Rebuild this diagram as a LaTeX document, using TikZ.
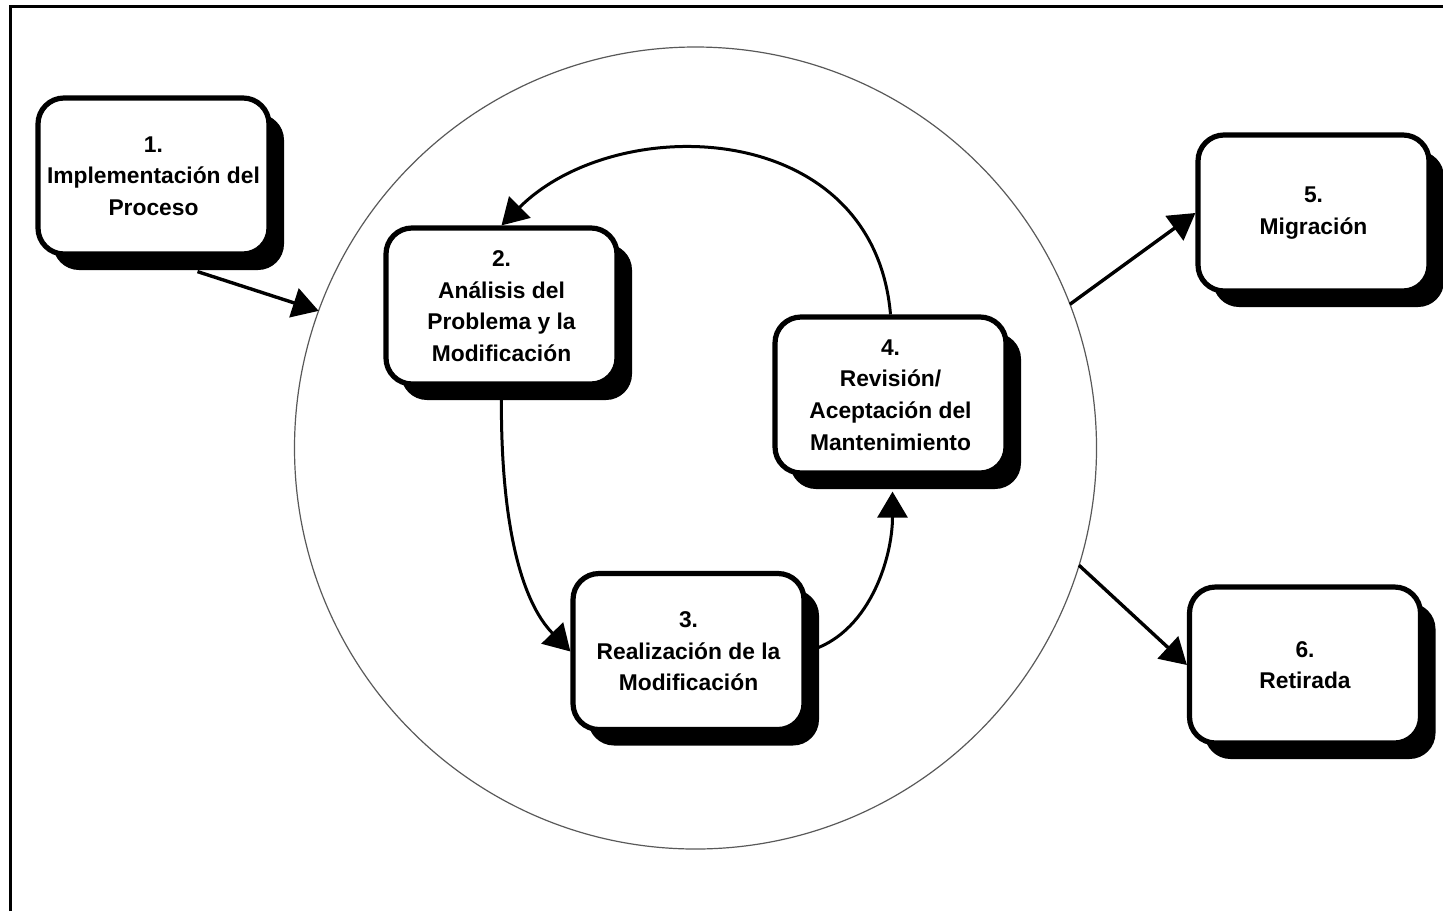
\documentclass[tikz,border=0pt]{standalone}
\usepackage{fontspec}
\setmainfont{Liberation Sans}
\usetikzlibrary{arrows.meta,calc,shadows}

\begin{document}
\begin{tikzpicture}[x=0.5pt,y=-0.5pt,
  stage/.style={draw,line width=2.6pt,rounded corners=13pt,fill=white,
    minimum width=115.5pt,minimum height=78pt,inner sep=0pt,align=center,
    font=\fontsize{11.4}{15.8}\selectfont\bfseries,
    drop shadow={shadow xshift=7.5pt,shadow yshift=-8pt,fill=black,opacity=1}},
  flow/.style={-{Triangle[length=13pt,width=15pt]},line width=1.7pt}]
\useasboundingbox (0,0) rectangle (1443,911);
% ---- outer frame (cut at right and bottom) ----
\draw[line width=1.5pt] (10,911) -- (10,6) -- (1443,6);
% ---- maintenance cycle ----
\node[circle,draw=black!65,line width=0.6pt,minimum size=401pt,inner sep=0pt,outer sep=0pt] (ring) at (695.5,448) {};
\node[stage] (box1) at (153.5,176) {1.\\Implementación del\\Proceso};
\node[stage] (box2) at (501.5,306) {2.\\Análisis del\\Problema y la\\Modificación};
\node[stage] (box3) at (688.5,651.5) {3.\\Realización de la\\Modificación};
\node[stage] (box4) at (890.5,395) {4.\\Revisión/\\Aceptación del\\Mantenimiento};
\node[stage] (box5) at (1313.5,213) {5.\\Migración};
\node[stage] (box6) at (1305,665) {6.\\Retirada};
% into and out of the cycle
\draw[flow] ($(box1.south)+(44,15)$) -- (ring.160);
\draw[flow] (ring.21) -- (box5.west);
\draw[flow] (ring.-17) -- (box6.west);
% loop 2 -> 3 -> 4 -> 2
\draw[flow,line width=1.5pt] (box2.south) .. controls +(-2,133) and +(-50,-51) .. (box3.west);
\draw[flow,line width=1.5pt] (box3.east) .. controls +(62,-16) and +(0,67) .. ($(box4.south)+(2,16)$);
\draw[flow,line width=1.5pt] (box4.north) .. controls +(-17,-197) and +(115,-115) .. (box2.north);
\end{tikzpicture}
\end{document}
